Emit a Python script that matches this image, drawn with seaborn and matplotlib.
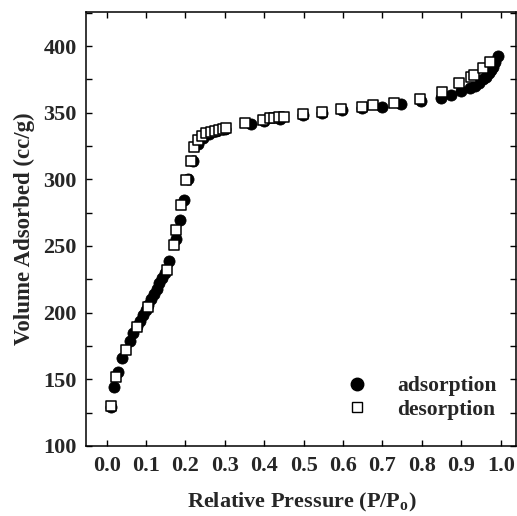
import numpy as np
import pandas as pd
import matplotlib
matplotlib.use("Agg")
import matplotlib.pyplot as plt
import seaborn as sns
from matplotlib.ticker import MultipleLocator
from matplotlib.lines import Line2D

# Adsorption branch (filled circles)
ads_p = [0.010, 0.019, 0.028, 0.040, 0.059, 0.068, 0.078, 0.085, 0.092, 0.099,
         0.106, 0.113, 0.120, 0.127, 0.134, 0.141, 0.148, 0.159, 0.177, 0.187,
         0.196, 0.207, 0.220, 0.232, 0.245, 0.260, 0.278, 0.300, 0.367, 0.400,
         0.440, 0.498, 0.547, 0.598, 0.649, 0.699, 0.748, 0.798, 0.849, 0.873,
         0.898, 0.921, 0.935, 0.946, 0.955, 0.963, 0.970, 0.976, 0.981, 0.986,
         0.992]
ads_v = [129, 144.5, 155.5, 166, 179, 185, 190, 194, 198, 202,
         206, 210, 214, 218, 222, 226, 230, 239, 255, 269.5,
         284.5, 300, 314, 326.5, 331, 334, 336, 337.5, 341.3, 344,
         345.5, 348, 349.5, 352, 353.5, 354.5, 356.5, 359, 360.8, 363.3,
         366.5, 368.3, 370, 372.5, 375, 377, 380, 382, 384.5, 388,
         392.5]

# Desorption branch (open squares)
des_p = [0.010, 0.025, 0.048, 0.078, 0.104, 0.152, 0.171, 0.177, 0.190, 0.201,
         0.215, 0.222, 0.232, 0.243, 0.253, 0.264, 0.274, 0.285, 0.296, 0.304,
         0.352, 0.397, 0.414, 0.426, 0.437, 0.449, 0.498, 0.547, 0.596, 0.647,
         0.677, 0.730, 0.794, 0.851, 0.895, 0.925, 0.931, 0.954, 0.973]
des_v = [130, 151.5, 172, 189, 204.5, 232, 251, 262, 281, 299.5,
         314, 324, 329.5, 332.5, 334.5, 335.8, 336.3, 337, 337.8, 338.3,
         342, 344.5, 345.8, 346.3, 346.6, 346.6, 349, 350.3, 352.8, 354.5,
         355.5, 357.5, 360.5, 365.8, 372, 376.5, 378, 383.3, 388.3]

x_ticks = [0.0, 0.1, 0.2, 0.3, 0.4, 0.5, 0.6, 0.7, 0.8, 0.9, 1.0]
y_ticks = [100, 150, 200, 250, 300, 350, 400]

sns.set_style("ticks")
plt.rcParams['font.family'] = ['Liberation Serif', 'DejaVu Serif']
plt.rcParams['font.weight'] = 'bold'

fig = plt.figure(figsize=(5.17, 5.16), dpi=100)
ax = fig.add_axes([0.1673, 0.1357, 0.8317, 0.841])

ads = pd.DataFrame({"p": ads_p, "v": ads_v})
des = pd.DataFrame({"p": des_p, "v": des_v})

sns.scatterplot(data=ads, x="p", y="v", ax=ax, marker="o", s=64,
                color="black", edgecolor="black", linewidth=0.6, zorder=3)
sns.scatterplot(data=des, x="p", y="v", ax=ax, marker="s", s=50,
                facecolor="white", edgecolor="black", linewidth=1.1, zorder=4)

ax.set_xlim(-0.051, 1.04)
ax.set_ylim(100, 425.5)
ax.set_xticks(x_ticks)
ax.set_xticklabels([f"{t:.1f}" for t in x_ticks])
ax.set_yticks(y_ticks)
ax.yaxis.set_minor_locator(MultipleLocator(25))

for s in ax.spines.values():
    s.set_linewidth(1.1)
    s.set_color("black")

ax.tick_params(axis="both", which="both", direction="in", top=True, right=True,
               width=1.0, color="black")
ax.tick_params(axis="both", which="major", length=4.5, labelsize=16)
ax.tick_params(axis="x", which="major", pad=7)
ax.tick_params(axis="y", which="major", pad=7)
ax.tick_params(axis="y", which="minor", length=4.5)
for lab in ax.get_xticklabels() + ax.get_yticklabels():
    lab.set_fontweight("bold")

ax.set_xlabel("Relative Pressure (P/P$_\\mathregular{o}$)", fontsize=16,
              fontweight="bold", labelpad=11)
ax.set_ylabel("Volume Adsorbed (cc/g)", fontsize=16.5, fontweight="bold",
              labelpad=6)

handles = [
    Line2D([], [], linestyle="none", marker="o", markersize=9,
           markerfacecolor="black", markeredgecolor="black"),
    Line2D([], [], linestyle="none", marker="s", markersize=7.5,
           markerfacecolor="white", markeredgecolor="black", markeredgewidth=1.0),
]
ax.legend(handles, ["adsorption", "desorption"], loc="lower right",
          bbox_to_anchor=(1.0, 0.016), frameon=False, handletextpad=1.4,
          labelspacing=0.15, prop={"family": "Liberation Serif", "weight": "bold",
                                   "size": 15.5}, handlelength=1.0)

fig.savefig("out.png", dpi=100)
